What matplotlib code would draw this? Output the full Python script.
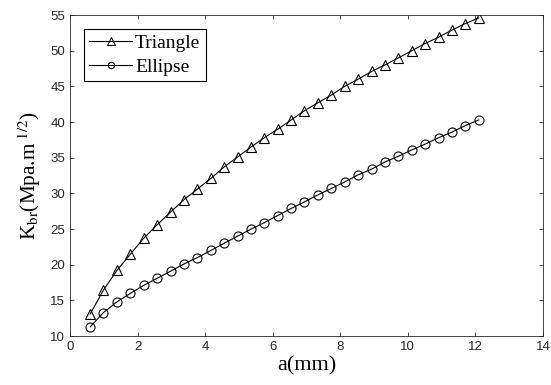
import matplotlib.pyplot as plt

# crack length a (mm) and stress intensity K_br for the two notch shapes
a_mm = [0.60, 0.99, 1.39, 1.79, 2.18, 2.58, 2.98, 3.37, 3.77, 4.17,
        4.56, 4.96, 5.36, 5.75, 6.15, 6.55, 6.94, 7.34, 7.74, 8.13,
        8.53, 8.93, 9.32, 9.72, 10.12, 10.51, 10.91, 11.31, 11.70, 12.10]
k_triangle = [13.1, 16.45, 19.2, 21.5, 23.7, 25.6, 27.4, 29.1, 30.6, 32.1,
              33.7, 35.1, 36.5, 37.8, 39.0, 40.3, 41.6, 42.7, 43.8, 45.0,
              46.0, 47.1, 48.0, 49.0, 50.0, 51.0, 51.9, 52.9, 53.8, 54.6]
k_ellipse = [11.3, 13.3, 14.8, 16.0, 17.1, 18.1, 19.1, 20.1, 21.0, 22.0,
             23.0, 24.0, 25.0, 25.9, 26.9, 27.9, 28.8, 29.8, 30.7, 31.6,
             32.6, 33.4, 34.4, 35.2, 36.1, 36.9, 37.8, 38.6, 39.5, 40.3]
x_ticks = [0, 2, 4, 6, 8, 10, 12, 14]
y_ticks = [10, 15, 20, 25, 30, 35, 40, 45, 50, 55]

plt.rcParams['mathtext.fontset'] = 'stix'
serif = 'Liberation Serif'
axis_grey = '#262626'

fig = plt.figure(figsize=(5.51, 3.85), dpi=100)
ax = fig.add_axes([0.127, 0.127, 0.8585, 0.834])

ax.plot(a_mm, k_triangle, color='black', lw=0.8, marker='^', ms=7.5,
        mfc='none', mec='black', mew=0.8, label='Triangle')
ax.plot(a_mm, k_ellipse, color='black', lw=0.8, marker='o', ms=6.5,
        mfc='none', mec='black', mew=0.8, label='Ellipse')

ax.set_xlim(0, 14)
ax.set_ylim(10, 55)
ax.set_xticks(x_ticks)
ax.set_yticks(y_ticks)
ax.tick_params(direction='in', top=True, right=True, length=3, width=0.6,
               colors=axis_grey, labelsize=9.5)
for lbl in ax.get_xticklabels() + ax.get_yticklabels():
    lbl.set_family('Liberation Sans')
for sp in ax.spines.values():
    sp.set_color(axis_grey)
    sp.set_linewidth(0.6)

ax.set_xlabel('a(mm)', family=serif, fontsize=16, labelpad=2)
ax.set_ylabel(r'K$_{\rm br}$(Mpa.m$^{\rm\ 1/2}$)', family=serif, fontsize=15.3,
              labelpad=5)

leg = ax.legend(loc='upper left', prop={'family': serif, 'size': 14},
                fancybox=False, edgecolor='black', framealpha=1,
                handlelength=2.2, handletextpad=0.15, borderpad=0.3,
                labelspacing=0.3, borderaxespad=0.7, markerscale=0.7)
leg.get_frame().set_linewidth(0.8)

fig.savefig('out.png', dpi=100)
